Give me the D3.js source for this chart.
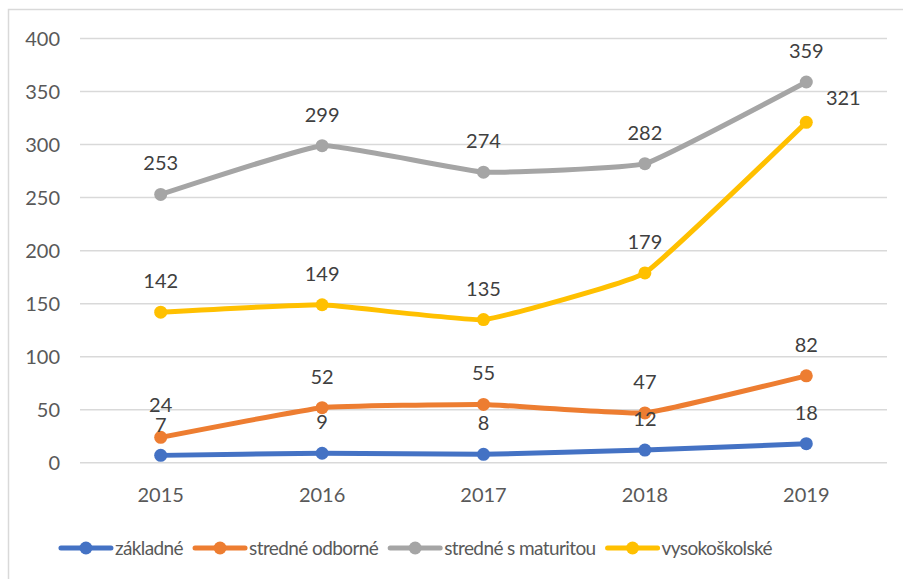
<!DOCTYPE html>
<html><head><meta charset="utf-8">
<script src="https://cdn.jsdelivr.net/npm/d3@7"></script>
<style>body{margin:0;background:#fff;}svg{display:block;font-family:Lato,"Open Sans",sans-serif;}</style>
</head><body>
<svg id="c" width="903" height="579"></svg>
<script>
const years = ["2015","2016","2017","2018","2019"];
const seriesNames = ["základné","stredné odborné","stredné s maturitou","vysokoškolské"];
const zakladne = [7, 9, 8, 12, 18];
const odborne = [24, 52, 55, 47, 82];
const maturita = [253, 299, 274, 282, 359];
const vysoko = [142, 149, 135, 179, 321];
const yTicks = [0, 50, 100, 150, 200, 250, 300, 350, 400];
const colors = ["#4472C4", "#ED7D31", "#A5A5A5", "#FFC000"];

const data = [zakladne, odborne, maturita, vysoko];
const svg = d3.select("#c");
svg.append("rect").attr("x",8.5).attr("y",9.5).attr("width",920).attr("height",600)
  .attr("fill","none").attr("stroke","#D9D9D9").attr("stroke-width",1.5);

const x = d3.scaleBand().domain(years).range([80, 887]);
const y = d3.scaleLinear().domain([0, 400]).range([462.8, 38.5]);

svg.append("g").selectAll("line").data(yTicks).join("line")
  .attr("x1",80).attr("x2",887).attr("y1",d=>y(d)).attr("y2",d=>y(d))
  .attr("stroke","#D9D9D9").attr("stroke-width",1.5);

svg.append("g").selectAll("text").data(yTicks).join("text")
  .attr("x",60).attr("y",d=>y(d)).attr("dy","0.35em").attr("text-anchor","end")
  .attr("fill","#595959").attr("font-size",20).text(d=>d);

svg.append("g").selectAll("text").data(years).join("text")
  .attr("x",d=>x(d)+x.bandwidth()/2).attr("y",495).attr("dy","0.35em").attr("text-anchor","middle")
  .attr("fill","#595959").attr("font-size",20).text(d=>d);

const cx = d => x(d) + x.bandwidth()/2;
const line = d3.line().x((v,i)=>cx(years[i])).y(v=>y(v)).curve(d3.curveCardinal.tension(0.7));

data.forEach((s, k) => {
  const g = svg.append("g");
  g.append("path").attr("d", line(s)).attr("fill","none").attr("stroke",colors[k])
    .attr("stroke-width",5).attr("stroke-linecap","round").attr("stroke-linejoin","round");
  g.selectAll("circle").data(s).join("circle")
    .attr("cx",(v,i)=>cx(years[i])).attr("cy",v=>y(v)).attr("r",6.5).attr("fill",colors[k]);
});

data.forEach((s, k) => {
  svg.append("g").selectAll("text").data(s).join("text")
    .attr("x",(v,i)=>cx(years[i]) + (k===3 && i===4 ? 37 : 0))
    .attr("y",(v,i)=>y(v) - 31 + (k===3 && i===4 ? 7 : 0) + (k===1 && i===0 ? -1 : 0) + (k===0 && i===0 ? 1 : 0))
    .attr("dy","0.35em").attr("text-anchor","middle")
    .attr("fill","#404040").attr("font-size",20).text(v=>v);
});

// legend
const leg = svg.append("g");
let lx = 0;
seriesNames.forEach((n, k) => {
  const g = leg.append("g");
  g.append("line").attr("x1",lx).attr("x2",lx+50).attr("y1",548).attr("y2",548)
    .attr("stroke",colors[k]).attr("stroke-width",5).attr("stroke-linecap","round");
  g.append("circle").attr("cx",lx+25).attr("cy",548).attr("r",6.5).attr("fill",colors[k]);
  const t = g.append("text").attr("x",lx+54).attr("y",548).attr("dy","0.35em")
    .attr("fill","#595959").attr("font-size",19).attr("letter-spacing","-0.6px").text(n);
  const w = t.node().getComputedTextLength();
  lx += 54 + w + 12;
});
const total = lx - 12;
leg.attr("transform",`translate(${416.5 - total/2},0)`);
</script>
</body></html>
